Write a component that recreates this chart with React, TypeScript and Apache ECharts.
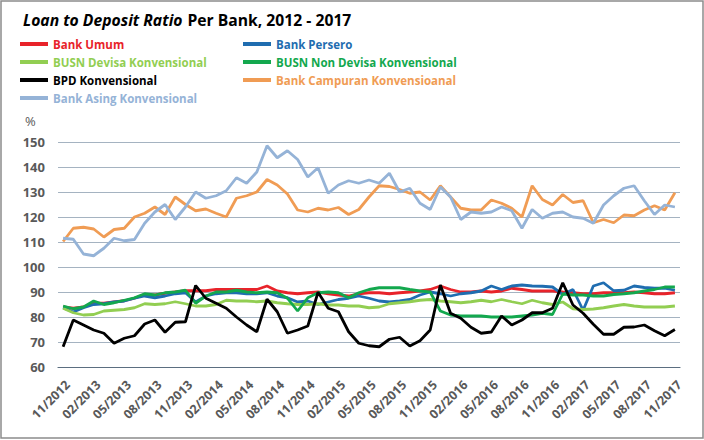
import { useEffect, useRef } from "react";
import * as echarts from "echarts";

const months = [
  "11/2012", "12/2012",
  "01/2013", "02/2013", "03/2013", "04/2013", "05/2013", "06/2013", "07/2013", "08/2013", "09/2013", "10/2013", "11/2013", "12/2013",
  "01/2014", "02/2014", "03/2014", "04/2014", "05/2014", "06/2014", "07/2014", "08/2014", "09/2014", "10/2014", "11/2014", "12/2014",
  "01/2015", "02/2015", "03/2015", "04/2015", "05/2015", "06/2015", "07/2015", "08/2015", "09/2015", "10/2015", "11/2015", "12/2015",
  "01/2016", "02/2016", "03/2016", "04/2016", "05/2016", "06/2016", "07/2016", "08/2016", "09/2016", "10/2016", "11/2016", "12/2016",
  "01/2017", "02/2017", "03/2017", "04/2017", "05/2017", "06/2017", "07/2017", "08/2017", "09/2017", "10/2017", "11/2017",
];

const bankUmum = [
  84, 83.5, 84, 85.5, 85.5, 86, 86.5, 87.5, 89, 88.8, 89.5, 90, 90.5, 90.5, 90.5, 91, 91, 91, 91, 91,
  92.4, 90.4, 89.7, 89.3, 89.7, 90, 89.3, 88.8, 88.4, 89.3, 89.7, 89.7, 89.3, 89.7, 90, 90.4, 91, 92.4, 91, 90,
  90, 90.4, 90, 90.4, 91.5, 91, 90.4, 90.4, 90.4, 90, 89.7, 89.3, 89.3, 89.7, 89.7, 89.7, 90, 89.7, 89.3, 89.3,
  89.7,
];
const bankPersero = [
  83.7, 82, 83.7, 85, 85.3, 86, 86.4, 87.5, 88.4, 87.7, 88.4, 89.3, 89.7, 86, 88.4, 89.3, 89.7, 89.7, 89.3, 89.3,
  89.7, 88.4, 87.7, 86, 86.4, 85, 86, 87, 87.5, 88.4, 87.5, 86.4, 86, 86.4, 87, 88.8, 90, 89.3, 88.4, 89.3,
  89.7, 90.4, 92.4, 91, 92.4, 92.8, 92.4, 92.3, 92, 89, 91, 82.7, 92.4, 93.7, 90.5, 90.7, 92.4, 91.8, 91.5, 91.5,
  90.7,
];
const busnDevisa = [
  83.5, 81.7, 80.8, 81, 82.4, 82.7, 83, 83.7, 85.3, 85, 85.3, 86.1, 85.3, 84.4, 84.4, 85, 86.7, 86.4, 86.4, 86.1,
  86.4, 85.7, 85.3, 85, 85, 85.3, 84.8, 84.8, 84.4, 84.4, 83.7, 84, 85.3, 85.7, 86.1, 86.7, 87, 86.4, 86.1, 85.7,
  86.1, 86.7, 86.1, 87, 86.1, 85.3, 86.7, 85.7, 85, 86, 83.3, 83, 83.2, 83.7, 84.4, 85, 84.4, 84, 84, 84,
  84.4,
];
const busnNonDevisa = [
  84.4, 83.3, 84, 86.4, 85, 85.7, 86.7, 87.7, 89.3, 88.8, 89.7, 90, 90.7, 85.5, 88.4, 90, 90, 90.7, 90, 89.7,
  90, 89.7, 87.5, 82.4, 87.7, 89.7, 90, 89.7, 87.7, 89.7, 91, 91.7, 91.7, 91.7, 91, 90.4, 90, 82.4, 80.8, 80.4,
  80.4, 80.4, 80, 80, 80, 80.4, 80.8, 81.5, 81, 89.2, 88.8, 88.8, 88.4, 88.4, 89, 89.3, 89.7, 90.4, 91, 92,
  92,
];
const bpd = [
  68.1, 78.8, 76.8, 74.8, 73.5, 69.5, 71.5, 72.5, 77.2, 78.8, 73.9, 77.9, 78.1, 92.6, 87.5, 85.5, 83.5, 80, 76.8, 74.1,
  87.1, 82.1, 73.5, 74.8, 76.4, 89.9, 83.5, 82.1, 74.1, 69.5, 68.5, 68.1, 71.1, 71.9, 68.4, 70.5, 74.8, 92.8, 81.5, 79.5,
  75.9, 73.5, 74, 80.4, 76.8, 78.8, 81.7, 81.7, 83.5, 93.7, 84.8, 81.5, 77.1, 73.1, 73.1, 75.9, 76, 76.8, 74.5, 72.5,
  75,
];
const bankCampuran = [
  110.2, 115.5, 115.9, 115.2, 112, 115, 115.5, 120, 121.5, 124, 121, 128, 125, 122.5, 123.2, 121.5, 120, 127.5, 128.5, 130,
  135, 132.8, 129.2, 122.8, 122, 123.5, 122.8, 123.8, 121, 123, 128, 132.5, 132.2, 131, 129.5, 130, 126.8, 132.5, 128, 123.5,
  122.8, 122.8, 126.8, 125.5, 123.5, 120, 132.5, 127, 124.8, 129, 125.8, 126.5, 117.7, 119, 117.7, 120.8, 120.5, 122.8, 124.5, 122.8,
  129.7,
];
const bankAsing = [
  111.5, 111.1, 105.2, 104.5, 107.5, 111.5, 110.5, 111, 117.5, 122, 125, 119, 124, 130, 127.5, 128.5, 130.5, 135.7, 133.5, 138,
  148.5, 143.7, 146.5, 143, 136, 139.7, 129.5, 132.8, 134.5, 133.5, 134.8, 133.5, 137.5, 130, 131.5, 125.5, 123, 132, 128, 119,
  122, 121.5, 122, 124, 122.5, 115.5, 123, 119.5, 121.5, 122, 120, 119.5, 117.5, 124.8, 128.5, 131.5, 132.5, 126.5, 121, 124.8,
  124,
];

const seriesNames = [
  "Bank Umum",
  "Bank Persero",
  "BUSN Devisa Konvensional",
  "BUSN Non Devisa Konvensional",
  "BPD Konvensional",
  "Bank Campuran Konvensioanal",
  "Bank Asing Konvensional",
];
const seriesData = [bankUmum, bankPersero, busnDevisa, busnNonDevisa, bpd, bankCampuran, bankAsing];
const seriesColors = ["#E8232A", "#1F6DB0", "#92CE52", "#13A84E", "#000000", "#F09C54", "#95B3D7"];

const yTicks = { min: 60, max: 150, interval: 10 };

const FONT = "'Open Sans', 'Noto Sans', sans-serif";

export default function App() {
  const ref = useRef<HTMLDivElement>(null);
  useEffect(() => {
    const chart = echarts.init(ref.current!, null, { renderer: "svg" });
    const legendItem = (i: number) => ({
      name: seriesNames[i],
      icon: "rect",
      itemStyle: { color: seriesColors[i] },
      textStyle: { color: seriesColors[i] },
    });
    const legendBase = {
      orient: "vertical",
      itemWidth: 28,
      itemHeight: 4,
      itemGap: 4,
      padding: 0,
      textStyle: { fontFamily: FONT, fontSize: 11.5, fontWeight: "bold", lineHeight: 14 },
      selectedMode: false,
    };
    chart.setOption({
      animation: false,
      backgroundColor: "#ffffff",
      title: {
        text: "{a|Loan to Deposit Ratio} {b|Per Bank, 2012 - 2017}",
        left: 23,
        top: 11,
        padding: 0,
        textStyle: {
          rich: {
            a: { fontFamily: FONT, fontSize: 15.7, fontWeight: "bold", fontStyle: "italic", color: "#000" },
            b: { fontFamily: FONT, fontSize: 15.7, fontWeight: "bold", color: "#000" },
          },
        },
      },
      legend: [
        { ...legendBase, left: 20, top: 37, data: [0, 2, 4, 6].map(legendItem) },
        { ...legendBase, left: 243, top: 37, data: [1, 3, 5].map(legendItem) },
      ],
      graphic: [
        {
          type: "rect",
          shape: { x: 1, y: 1, width: 702, height: 437 },
          style: { fill: "none", stroke: "#8c8c8c", lineWidth: 1.5 },
          silent: true,
        },
        {
          type: "text",
          left: 25,
          top: 114,
          style: { text: "%", fontFamily: FONT, fontSize: 13, fill: "#595959" },
        },
      ],
      grid: { left: 58, right: 24, top: 142, bottom: 73, containLabel: false },
      xAxis: {
        type: "category",
        data: months,
        boundaryGap: true,
        axisLine: { lineStyle: { color: "#5B6E80", width: 1.2 } },
        axisTick: { interval: 2, length: 5, lineStyle: { color: "#5B6E80" } },
        axisLabel: {
          interval: 2,
          rotate: 45,
          margin: 11,
          verticalAlign: "top",
          fontFamily: FONT,
          fontSize: 12.5,
          fontWeight: "bold",
          color: "#595959",
        },
        splitLine: { show: false },
      },
      yAxis: {
        type: "value",
        min: yTicks.min,
        max: yTicks.max,
        interval: yTicks.interval,
        axisLine: { show: false },
        axisTick: { show: false },
        axisLabel: { margin: 13, fontFamily: FONT, fontSize: 13, fontWeight: "bold", color: "#595959" },
        splitLine: { lineStyle: { color: "#A5B3C1", width: 1.2 } },
      },
      series: seriesNames.map((name, i) => ({
        name,
        type: "line",
        data: seriesData[i],
        symbol: "none",
        color: seriesColors[i],
        lineStyle: { color: seriesColors[i], width: 2.8 },
        itemStyle: { color: seriesColors[i] },
        z: 2 + i,
      })),
    });
    return () => chart.dispose();
  }, []);
  return (
    <div
      ref={ref}
      style={{ position: "fixed", left: 0, top: 0, width: 704, height: 440, background: "#fff" }}
    />
  );
}
